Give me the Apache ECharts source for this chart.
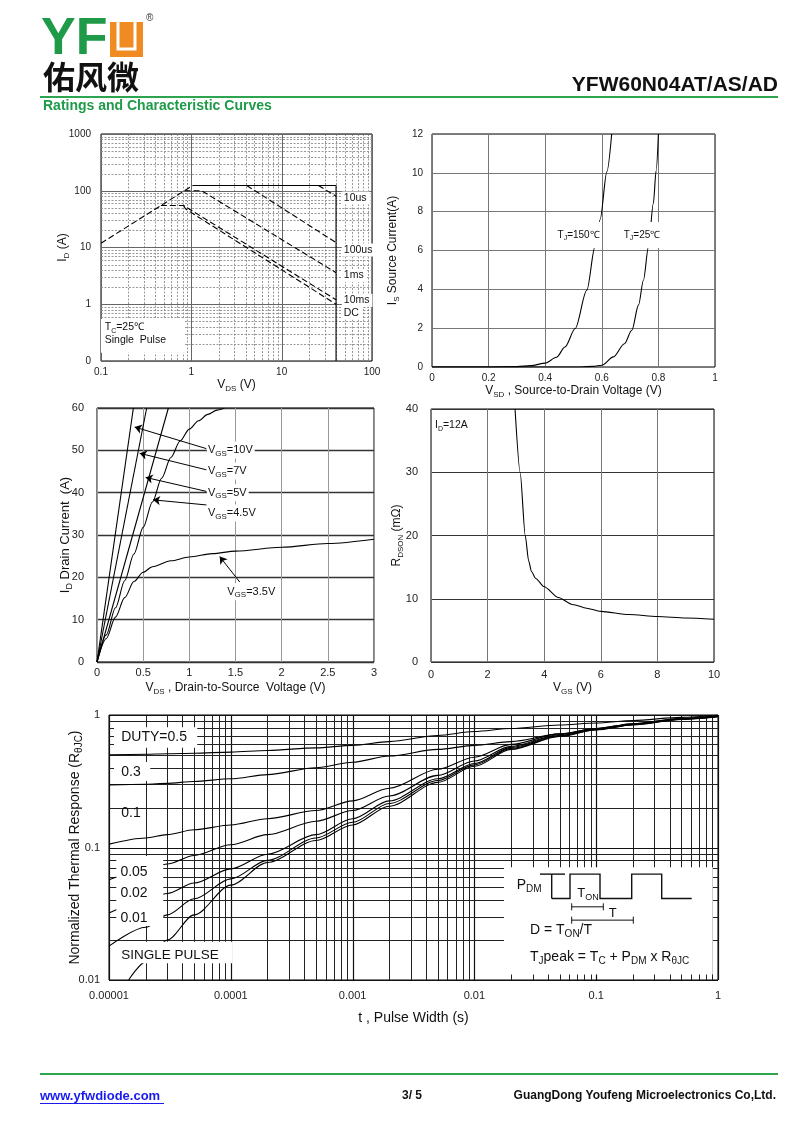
<!DOCTYPE html>
<html>
<head>
<meta charset="utf-8">
<script src="https://cdn.jsdelivr.net/npm/echarts@6.0.0/dist/echarts.min.js"></script>
<style>
html,body{margin:0;padding:0;background:#fff;}
#chart{width:800px;height:1130px;}
</style>
</head>
<body>
<div id="chart"></div>
<script>
// ================= DATA =================
// Fig 1: Safe operating area  [V_DS (V), I_D (A)]
const soaRdsonLimit = [[0.1, 11.9], [1.04, 124]];
const soaLimitBox = [[1.04, 124], [40, 124], [40, 0.1]];
const soa10us = [[25.5, 124], [40, 80]];
const soa100us = [[4.1, 124], [40, 12.2]];
const soa1ms = [[0.84, 100], [1.3, 100], [40, 3.6]];
const soa10ms = [[0.46, 55], [0.82, 55], [40, 1.2]];
const soaDC = [[0.82, 55], [0.86, 48], [40, 1.0]];
const soaXTicks = ['0.1', '1', '10', '100'];
const soaYTicks = ['0', '1', '10', '100', '1000'];

// Fig 2: Source current vs V_SD  [V_SD (V), I_S (A)]
const vsdTj150 = [[0, 0], [0.2, 0], [0.3, 0.02], [0.35, 0.07], [0.4, 0.2], [0.44, 0.5], [0.47, 1.03], [0.506, 1.98], [0.547, 3.95], [0.576, 6.2], [0.594, 7.6], [0.618, 10.06], [0.635, 12]];
const vsdTj25 = [[0, 0], [0.5, 0], [0.57, 0.03], [0.6, 0.09], [0.641, 0.52], [0.68, 1.2], [0.706, 1.89], [0.73, 3.2], [0.747, 4.47], [0.765, 6.19], [0.782, 8.42], [0.792, 10.1], [0.8, 12]];
const vsdXTicks = ['0', '0.2', '0.4', '0.6', '0.8', '1'];
const vsdYTicks = ['0', '2', '4', '6', '8', '10', '12'];

// Fig 3: Output characteristics  [V_DS (V), I_D (A)]
const outVgs10 = [[0, 0], [0.394, 60]];
const outVgs7 = [[0, 0], [0.538, 60]];
const outVgs5 = [[0, 0], [0.773, 60]];
const outVgs45 = [[0, 0], [0.1, 6.4], [0.2, 12.8], [0.3, 19.2], [0.4, 25.5], [0.5, 31.8], [0.6, 37.8], [0.7, 43.4], [0.8, 48.3], [0.9, 52.2], [1.0, 55.0], [1.1, 57.0], [1.2, 58.5], [1.3, 59.5], [1.38, 60]];
const outVgs35 = [[0, 0], [0.1, 5.5], [0.2, 10.6], [0.3, 15.2], [0.4, 19.0], [0.5, 21.2], [0.6, 22.5], [0.8, 23.9], [1.0, 24.8], [1.25, 25.6], [1.5, 26.2], [2.0, 27.1], [2.5, 28.0], [3.0, 29.0]];
const outXTicks = ['0', '0.5', '1', '1.5', '2', '2.5', '3'];
const outYTicks = ['0', '10', '20', '30', '40', '50', '60'];

// Fig 4: R_DS(on) vs V_GS  [V_GS (V), R (mOhm)]
const rdsCurve = [[2.97, 40], [3.15, 30], [3.33, 20], [3.45, 16], [3.55, 14.3], [3.7, 13.2], [4, 11.9], [4.5, 10.2], [5, 9.1], [5.5, 8.5], [6, 8.0], [7, 7.5], [8, 7.2], [9, 6.95], [10, 6.75]];
const rdsXTicks = ['0', '2', '4', '6', '8', '10'];
const rdsYTicks = ['0', '10', '20', '30', '40'];

// Fig 5: Normalized thermal response  [t (s), Zth]
const thermT = [1e-5, 2e-5, 3e-5, 5e-5, 1e-4, 2e-4, 5e-4, 1e-3, 2e-3, 5e-3, 1e-2, 2e-2, 5e-2, 0.1, 0.2, 0.5, 1];
const thermD05 = [0.50, 0.505, 0.51, 0.515, 0.525, 0.54, 0.565, 0.59, 0.63, 0.70, 0.75, 0.79, 0.84, 0.87, 0.91, 0.96, 1.0];
const thermD03 = [0.296, 0.30, 0.305, 0.315, 0.33, 0.355, 0.40, 0.44, 0.49, 0.55, 0.59, 0.63, 0.72, 0.79, 0.86, 0.94, 0.99];
const thermD01 = [0.106, 0.118, 0.125, 0.136, 0.148, 0.165, 0.19, 0.225, 0.28, 0.39, 0.48, 0.60, 0.72, 0.79, 0.86, 0.94, 0.98];
const thermD005 = [0.057, 0.068, 0.075, 0.087, 0.105, 0.125, 0.158, 0.19, 0.245, 0.35, 0.45, 0.58, 0.71, 0.785, 0.855, 0.935, 0.98];
const thermD002 = [0.032, 0.040, 0.045, 0.054, 0.069, 0.089, 0.125, 0.165, 0.225, 0.33, 0.43, 0.57, 0.70, 0.78, 0.85, 0.93, 0.975];
const thermD001 = [0.018, 0.025, 0.031, 0.041, 0.058, 0.08, 0.118, 0.155, 0.215, 0.32, 0.42, 0.56, 0.695, 0.775, 0.845, 0.93, 0.975];
const thermSingleT = [1.45e-5, 2e-5, 3e-5, 5e-5, 1e-4, 2e-4, 5e-4, 1e-3, 2e-3, 5e-3, 1e-2, 2e-2, 5e-2, 0.1, 0.2, 0.5, 1];
const thermSingle = [0.01, 0.0137, 0.02, 0.031, 0.052, 0.077, 0.113, 0.148, 0.205, 0.31, 0.41, 0.55, 0.69, 0.77, 0.84, 0.925, 0.97];
const thermXTicks = ['0.00001', '0.0001', '0.001', '0.01', '0.1', '1'];
const thermYTicks = ['0.01', '0.1', '1'];

// ================= CHART =================
const FONT = '"Liberation Sans", Arial, sans-serif';
const chart = echarts.init(document.getElementById('chart'), null, {renderer: 'canvas', width: 800, height: 1130});

const grids = [
  {left: 101, top: 134, width: 271, height: 227},
  {left: 432, top: 134, width: 283, height: 233},
  {left: 97, top: 408, width: 277, height: 254},
  {left: 431, top: 409, width: 283, height: 253},
  {left: 109, top: 715, width: 609, height: 265}
];

function richE(size) {
  return {
    n: {fontSize: size, fontFamily: FONT, color: '#111', lineHeight: size + 4},
    s: {fontSize: Math.round(size * 0.7), fontFamily: FONT, color: '#111', verticalAlign: 'bottom', lineHeight: size + 4}
  };
}
function richZ(size) {
  return {
    n: {fontSize: size, fontFamily: FONT, fill: '#111', lineHeight: size + 4},
    s: {fontSize: Math.round(size * 0.7), fontFamily: FONT, fill: '#111', verticalAlign: 'bottom', lineHeight: size + 4}
  };
}
function nameStyle(size) { return {fontSize: size, fontFamily: FONT, color: '#111', rich: richE(size)}; }
function lab(size, margin, fmt) { return {fontSize: size, color: '#222', margin: margin, formatter: fmt, fontFamily: FONT}; }
const logIdx = (v, off) => Math.round(Math.log10(v)) + off;
const linIdx = (v, min, step) => Math.round((v - min) / step);
const axBase = {axisTick: {show: false}, axisLine: {show: false}, nameLocation: 'middle', nameMoveOverlap: false};

function logGridValues(min, max) {
  const vals = [];
  const e0 = Math.round(Math.log10(min)), e1 = Math.round(Math.log10(max));
  for (let e = e0; e < e1; e++) for (let k = 1; k <= 9; k++) vals.push([k * Math.pow(10, e), k === 1 ? 1 : 0]);
  vals.push([Math.pow(10, e1), 1]);
  return vals;
}
function gridLineSeries(gi, xVals, yVals, xRef, yRef, minor, major) {
  const mk = (vertical) => ({
    type: 'custom', xAxisIndex: gi, yAxisIndex: gi, silent: true, z: 1, clip: false,
    data: vertical ? xVals.map(d => [d[0], yRef, d[1]]) : yVals.map(d => [xRef, d[0], d[1]]),
    encode: {x: 0, y: 1},
    renderItem: (params, api) => {
      const cs = params.coordSys;
      const p = api.coord([api.value(0), api.value(1)]);
      const st = api.value(2) ? major : minor;
      const shape = vertical
        ? {x1: Math.round(p[0]) + 0.5, y1: cs.y, x2: Math.round(p[0]) + 0.5, y2: cs.y + cs.height}
        : {x1: cs.x, y1: Math.round(p[1]) + 0.5, x2: cs.x + cs.width, y2: Math.round(p[1]) + 0.5};
      return {type: 'line', shape: shape, style: Object.assign({fill: null}, st)};
    }
  });
  return [mk(true), mk(false)];
}

const lineBase = {type: 'line', symbol: 'none', silent: true, z: 3, clip: true};
const solid = {color: '#000', width: 1.1, type: 'solid'};
const dashed = {color: '#000', width: 1.1, type: [6, 3]};
const zip = (xs, ys) => xs.map((x, i) => [x, ys[i]]);

const outArrows = [
  [[1.185, 50.4], [0.408, 55.5]],
  [[1.185, 45.4], [0.462, 49.3]],
  [[1.185, 40.3], [0.527, 43.6]],
  [[1.185, 37.1], [0.607, 38.3]],
  [[1.546, 18.9], [1.329, 24.9]]
];

const option = {
  animation: false,
  backgroundColor: '#fff',
  textStyle: {fontFamily: FONT},
  grid: grids.map(g => Object.assign({show: true, borderColor: '#000', borderWidth: 1, backgroundColor: 'rgba(0,0,0,0)', containLabel: false, outerBoundsMode: 'none'}, g)),
  xAxis: [
    Object.assign({}, axBase, {gridIndex: 0, type: 'log', logBase: 10, min: 0.1, max: 100, splitLine: {show: false},
      axisLabel: lab(10, 6, v => soaXTicks[logIdx(v, 1)]),
      name: '{n|V}{s|DS}{n| (V)}', nameGap: 16, nameTextStyle: nameStyle(12)}),
    Object.assign({}, axBase, {gridIndex: 1, type: 'value', min: 0, max: 1, interval: 0.2,
      splitLine: {show: true, lineStyle: {color: '#777', width: 1}},
      axisLabel: lab(10, 6, v => vsdXTicks[linIdx(v, 0, 0.2)]),
      name: '{n|V}{s|SD}{n| , Source-to-Drain Voltage (V)}', nameGap: 16, nameTextStyle: nameStyle(12)}),
    Object.assign({}, axBase, {gridIndex: 2, type: 'value', min: 0, max: 3, interval: 0.5,
      splitLine: {show: true, lineStyle: {color: '#999', width: 1}},
      axisLabel: lab(11, 5, v => outXTicks[linIdx(v, 0, 0.5)]),
      name: '{n|V}{s|DS}{n| , Drain-to-Source  Voltage (V)}', nameGap: 18, nameTextStyle: nameStyle(12)}),
    Object.assign({}, axBase, {gridIndex: 3, type: 'value', min: 0, max: 10, interval: 2,
      splitLine: {show: true, lineStyle: {color: '#777', width: 1}},
      axisLabel: lab(11, 7, v => rdsXTicks[linIdx(v, 0, 2)]),
      name: '{n|V}{s|GS}{n| (V)}', nameGap: 18, nameTextStyle: nameStyle(12)}),
    Object.assign({}, axBase, {gridIndex: 4, type: 'log', logBase: 10, min: 1e-5, max: 1, splitLine: {show: false},
      axisLabel: lab(11, 10, v => thermXTicks[logIdx(v, 5)]),
      name: 't , Pulse Width (s)', nameGap: 31, nameTextStyle: {fontSize: 14, fontFamily: FONT, color: '#111'}})
  ],
  yAxis: [
    Object.assign({}, axBase, {gridIndex: 0, type: 'log', logBase: 10, min: 0.1, max: 1000, splitLine: {show: false},
      axisLabel: lab(10, 10, v => soaYTicks[logIdx(v, 1)]),
      name: '{n|I}{s|D}{n| (A)}', nameGap: 30, nameTextStyle: nameStyle(12)}),
    Object.assign({}, axBase, {gridIndex: 1, type: 'value', min: 0, max: 12, interval: 2,
      splitLine: {show: true, lineStyle: {color: '#777', width: 1}},
      axisLabel: lab(10, 9, v => vsdYTicks[linIdx(v, 0, 2)]),
      name: '{n|I}{s|S}{n| Source Current(A)}', nameGap: 31, nameTextStyle: nameStyle(12)}),
    Object.assign({}, axBase, {gridIndex: 2, type: 'value', min: 0, max: 60, interval: 10,
      splitLine: {show: true, lineStyle: {color: '#333', width: 1.3}},
      axisLabel: lab(11, 13, v => outYTicks[linIdx(v, 0, 10)]),
      name: '{n|I}{s|D}{n| Drain Current  (A)}', nameGap: 23, nameTextStyle: nameStyle(13)}),
    Object.assign({}, axBase, {gridIndex: 3, type: 'value', min: 0, max: 40, interval: 10,
      splitLine: {show: true, lineStyle: {color: '#333', width: 1.2}},
      axisLabel: lab(11, 13, v => rdsYTicks[linIdx(v, 0, 10)]),
      name: '{n|R}{s|DSON}{n| (mΩ)}', nameGap: 26, nameTextStyle: nameStyle(12)}),
    Object.assign({}, axBase, {gridIndex: 4, type: 'log', logBase: 10, min: 0.01, max: 1, splitLine: {show: false},
      axisLabel: lab(11, 9, v => thermYTicks[logIdx(v, 2)]),
      name: '{n|Normalized Thermal Response (R}{s|θJC}{n|)}', nameGap: 25, nameTextStyle: nameStyle(14)})
  ],
  series: [].concat(
    gridLineSeries(0, logGridValues(0.1, 100), logGridValues(0.1, 1000), 0.1, 0.1,
      {stroke: '#8c8c8c', lineWidth: 0.9, lineDash: [2, 1.5]}, {stroke: '#666', lineWidth: 1}),
    gridLineSeries(4, logGridValues(1e-5, 1), logGridValues(0.01, 1), 1e-5, 0.01,
      {stroke: '#222', lineWidth: 1}, {stroke: '#111', lineWidth: 1.2}),
    [
      Object.assign({}, lineBase, {xAxisIndex: 0, yAxisIndex: 0, data: soaRdsonLimit, lineStyle: dashed}),
      Object.assign({}, lineBase, {xAxisIndex: 0, yAxisIndex: 0, data: soaLimitBox, lineStyle: solid}),
      Object.assign({}, lineBase, {xAxisIndex: 0, yAxisIndex: 0, data: soa10us, lineStyle: dashed}),
      Object.assign({}, lineBase, {xAxisIndex: 0, yAxisIndex: 0, data: soa100us, lineStyle: dashed}),
      Object.assign({}, lineBase, {xAxisIndex: 0, yAxisIndex: 0, data: soa1ms, lineStyle: dashed}),
      Object.assign({}, lineBase, {xAxisIndex: 0, yAxisIndex: 0, data: soa10ms, lineStyle: dashed}),
      Object.assign({}, lineBase, {xAxisIndex: 0, yAxisIndex: 0, data: soaDC, lineStyle: dashed}),

      Object.assign({}, lineBase, {xAxisIndex: 1, yAxisIndex: 1, data: vsdTj150, smooth: 0.3, smoothMonotone: 'x', lineStyle: solid}),
      Object.assign({}, lineBase, {xAxisIndex: 1, yAxisIndex: 1, data: vsdTj25, smooth: 0.3, smoothMonotone: 'x', lineStyle: solid}),

      Object.assign({}, lineBase, {xAxisIndex: 2, yAxisIndex: 2, data: outVgs10, lineStyle: solid,
        markLine: {silent: true, animation: false, symbol: ['none', 'arrow'], symbolSize: 7, label: {show: false},
          lineStyle: {color: '#000', width: 1, type: 'solid'},
          data: outArrows.map(a => [{coord: a[0]}, {coord: a[1]}])}}),
      Object.assign({}, lineBase, {xAxisIndex: 2, yAxisIndex: 2, data: outVgs7, lineStyle: solid}),
      Object.assign({}, lineBase, {xAxisIndex: 2, yAxisIndex: 2, data: outVgs5, lineStyle: solid}),
      Object.assign({}, lineBase, {xAxisIndex: 2, yAxisIndex: 2, data: outVgs45, smooth: 0.3, smoothMonotone: 'x', lineStyle: solid}),
      Object.assign({}, lineBase, {xAxisIndex: 2, yAxisIndex: 2, data: outVgs35, smooth: 0.3, smoothMonotone: 'x', lineStyle: solid}),

      Object.assign({}, lineBase, {xAxisIndex: 3, yAxisIndex: 3, data: rdsCurve, smooth: 0.25, smoothMonotone: 'x', lineStyle: solid}),

      Object.assign({}, lineBase, {xAxisIndex: 4, yAxisIndex: 4, data: zip(thermT, thermD05), smooth: 0.3, smoothMonotone: 'x', lineStyle: solid}),
      Object.assign({}, lineBase, {xAxisIndex: 4, yAxisIndex: 4, data: zip(thermT, thermD03), smooth: 0.3, smoothMonotone: 'x', lineStyle: solid}),
      Object.assign({}, lineBase, {xAxisIndex: 4, yAxisIndex: 4, data: zip(thermT, thermD01), smooth: 0.3, smoothMonotone: 'x', lineStyle: solid}),
      Object.assign({}, lineBase, {xAxisIndex: 4, yAxisIndex: 4, data: zip(thermT, thermD005), smooth: 0.3, smoothMonotone: 'x', lineStyle: solid}),
      Object.assign({}, lineBase, {xAxisIndex: 4, yAxisIndex: 4, data: zip(thermT, thermD002), smooth: 0.3, smoothMonotone: 'x', lineStyle: solid}),
      Object.assign({}, lineBase, {xAxisIndex: 4, yAxisIndex: 4, data: zip(thermT, thermD001), smooth: 0.3, smoothMonotone: 'x', lineStyle: solid}),
      Object.assign({}, lineBase, {xAxisIndex: 4, yAxisIndex: 4, data: zip(thermSingleT, thermSingle), smooth: 0.3, smoothMonotone: 'x', lineStyle: solid})
    ]
  )
};
chart.setOption(option);

// ================= ANNOTATIONS =================
const P = (g, pt) => chart.convertToPixel({gridIndex: g}, pt);
const ann = [];
function txt(g, at, text, size, extra) {
  const p = P(g, at);
  ann.push({type: 'text', z: 101, silent: true, style: Object.assign({
    text: text, x: p[0], y: p[1], fontSize: size, fontFamily: FONT, fill: '#111',
    align: 'left', textAlign: 'left', verticalAlign: 'middle', textVerticalAlign: 'middle', rich: richZ(size)}, extra || {})});
}
function box(g, a, b) {
  const p1 = P(g, a), p2 = P(g, b);
  ann.push({type: 'rect', z: 100, silent: true,
    shape: {x: Math.min(p1[0], p2[0]), y: Math.min(p1[1], p2[1]), width: Math.abs(p2[0] - p1[0]), height: Math.abs(p2[1] - p1[1])},
    style: {fill: '#fff'}});
}
const whiteBg = (pad) => ({backgroundColor: '#fff', padding: pad});

// Fig 1 notes
box(0, [0.1, 0.55], [0.84, 0.14]);
txt(0, [0.11, 0.40], '{n|T}{s|C}{n|=25℃}', 10.5);
txt(0, [0.11, 0.235], 'Single  Pulse', 10.5);
[['10us', 74.6], ['100us', 9.0], ['1ms', 3.2], ['10ms', 1.17], ['DC', 0.70]].forEach(d => {
  txt(0, [46.3, d[1]], d[0], 10.5, whiteBg([1, 3, 1, 2]));
});
// Fig 2 notes
txt(1, [0.44, 6.8], '{n|T}{s|J}{n|=150℃}', 10, whiteBg([6, 1, 6, 1]));
txt(1, [0.674, 6.8], '{n|T}{s|J}{n|=25℃}', 10, whiteBg([6, 1, 6, 1]));
// Fig 3 notes
[['10V', 50.1], ['7V', 45.1], ['5V', 40.0], ['4.5V', 35.2]].forEach(d => {
  txt(2, [1.19, d[1]], '{n|V}{s|GS}{n|=' + d[0] + '}', 11, whiteBg([1, 2, 1, 1]));
});
txt(2, [1.40, 16.6], '{n|V}{s|GS}{n|=3.5V}', 11, whiteBg([1, 2, 1, 1]));
// Fig 4 note
txt(3, [0.14, 37.4], '{n|I}{s|D}{n|=12A}', 10.5);
// Fig 5 notes
box(4, [1.1e-5, 0.81], [5.3e-5, 0.565]);
box(4, [1.1e-5, 0.442], [2.18e-5, 0.317]);
box(4, [1.148e-5, 0.0863], [2.79e-5, 0.0256]);
box(4, [1.148e-5, 0.0194], [1.03e-4, 0.0134]);
txt(4, [1.26e-5, 0.679], 'DUTY=0.5', 14);
txt(4, [1.26e-5, 0.373], '0.3', 14);
txt(4, [1.26e-5, 0.181], '0.1', 14);
txt(4, [1.24e-5, 0.0657], '0.05', 14);
txt(4, [1.24e-5, 0.0451], '0.02', 14);
txt(4, [1.24e-5, 0.0292], '0.01', 14);
txt(4, [1.26e-5, 0.01545], 'SINGLE PULSE', 13.5);
// inset
box(4, [0.0175, 0.0711], [0.906, 0.011]);
const O = P(4, [0.0175, 0.0711]);
const Q = (dx, dy) => [O[0] + dx, O[1] + dy];
const blk = {stroke: '#111', lineWidth: 1.4, fill: null};
ann.push({type: 'polyline', z: 101, silent: true, shape: {points: [Q(36, 7), Q(61, 7)]}, style: blk});
ann.push({type: 'polyline', z: 101, silent: true, shape: {points: [Q(47.7, 7), Q(47.7, 31.3)]}, style: blk});
ann.push({type: 'polyline', z: 101, silent: true, shape: {points: [Q(47.7, 31.3), Q(66, 31.3), Q(66, 7), Q(96, 7), Q(96, 31.3), Q(127.7, 31.3), Q(127.7, 7), Q(157.7, 7), Q(157.7, 31.3), Q(187.7, 31.3)]}, style: blk});
const thin = {stroke: '#111', lineWidth: 1, fill: null};
[[67.7, 99.3, 39.7], [67.7, 129.3, 53]].forEach(b => {
  ann.push({type: 'polyline', z: 101, silent: true, shape: {points: [Q(b[0], b[2]), Q(b[1], b[2])]}, style: thin});
  ann.push({type: 'polyline', z: 101, silent: true, shape: {points: [Q(b[0], b[2] - 3.5), Q(b[0], b[2] + 3.5)]}, style: thin});
  ann.push({type: 'polyline', z: 101, silent: true, shape: {points: [Q(b[1], b[2] - 3.5), Q(b[1], b[2] + 3.5)]}, style: thin});
});
function rawTxt(pt, text, size, align) {
  ann.push({type: 'text', z: 101, silent: true, style: {text: text, x: pt[0], y: pt[1], fontSize: size, fontFamily: FONT, fill: '#111',
    align: align || 'left', textAlign: align || 'left', verticalAlign: 'middle', textVerticalAlign: 'middle', rich: richZ(size)}});
}
rawTxt(Q(12.7, 18), '{n|P}{s|DM}', 14);
rawTxt(Q(84, 26), '{n|T}{s|ON}', 13, 'center');
rawTxt(Q(108.7, 46), 'T', 13, 'center');
rawTxt(Q(26, 63), '{n|D = T}{s|ON}{n|/T}', 14);
rawTxt(Q(26, 90), '{n|T}{s|J}{n|peak = T}{s|C}{n| + P}{s|DM}{n| x R}{s|θJC}', 14);

// header & footer (page decoration)
const GREEN = '#1e9a48';
const deco = [
  {type: 'text', style: {text: 'YF', x: 41, y: 40, font: 'bold 52px ' + FONT, fill: GREEN, verticalAlign: 'middle', textVerticalAlign: 'middle'}},
  {type: 'rect', shape: {x: 110, y: 22, width: 33, height: 35}, style: {fill: '#f08a22'}},
  {type: 'polyline', shape: {points: [[118, 22], [118, 49], [135, 49], [135, 22]]}, style: {stroke: '#fff', lineWidth: 3, fill: null}},
  {type: 'text', style: {text: '®', x: 146, y: 18, font: '10px ' + FONT, fill: '#333', verticalAlign: 'middle', textVerticalAlign: 'middle'}},
  {type: 'text', style: {text: '佑风微', x: 43, y: 77, font: 'bold 32px "Noto Sans CJK SC"', fill: '#111', verticalAlign: 'middle', textVerticalAlign: 'middle'}},
  {type: 'text', style: {text: 'YFW60N04AT/AS/AD', x: 778, y: 85, font: 'bold 21px ' + FONT, fill: '#111', align: 'right', textAlign: 'right', verticalAlign: 'middle', textVerticalAlign: 'middle'}},
  {type: 'rect', shape: {x: 40, y: 96, width: 738, height: 2}, style: {fill: '#2da44e'}},
  {type: 'text', style: {text: 'Ratings and Characteristic Curves', x: 43, y: 106, font: 'bold 14px ' + FONT, fill: GREEN, verticalAlign: 'middle', textVerticalAlign: 'middle'}},
  {type: 'rect', shape: {x: 40, y: 1073, width: 738, height: 2}, style: {fill: '#2da44e'}},
  {type: 'text', style: {text: 'www.yfwdiode.com', x: 40, y: 1096, font: 'bold 13px ' + FONT, fill: '#1a1aee', verticalAlign: 'middle', textVerticalAlign: 'middle'}},
  {type: 'rect', shape: {x: 40, y: 1103, width: 124, height: 1}, style: {fill: '#1a1aee'}},
  {type: 'text', style: {text: '3/ 5', x: 402, y: 1096, font: 'bold 12px ' + FONT, fill: '#111', verticalAlign: 'middle', textVerticalAlign: 'middle'}},
  {type: 'text', style: {text: 'GuangDong Youfeng Microelectronics Co,Ltd.', x: 776, y: 1096, font: 'bold 12px ' + FONT, fill: '#111', align: 'right', textAlign: 'right', verticalAlign: 'middle', textVerticalAlign: 'middle'}}
];

chart.setOption({graphic: {elements: deco.concat(ann)}});
</script>
</body>
</html>
